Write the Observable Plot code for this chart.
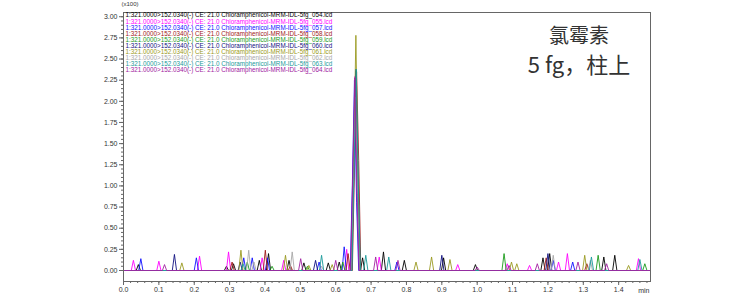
<!DOCTYPE html>
<html><head><meta charset="utf-8">
<script src="https://cdn.jsdelivr.net/npm/d3@7"></script>
<script src="https://cdn.jsdelivr.net/npm/@observablehq/plot@0.6"></script>
<style>
body{margin:0;background:#fff;}
#wrap{position:relative;width:754px;height:297px;}
#note{position:absolute;left:509px;top:21px;width:140px;text-align:center;font-family:"Noto Sans CJK SC",sans-serif;color:#333;}
#note div{line-height:28px;white-space:pre;}
</style></head>
<body><div id="wrap"><div id="note"><div style="font-size:20px">氯霉素</div><div style="font-size:22px">5 fg，柱上</div></div></div>
<script>
const seriesNames = ["054","055","057","058","059","060","061","062","063","064"];
const seriesColors = ["#000000","#ff00ff","#1010ff","#a01818","#1a9a1a","#101080","#9a9a20","#a8a8a8","#1a9a9a","#a020a0"];
const legendPrefix = "1:321.0000>152.0340(-) CE: 21.0 Chloramphenicol-MRM-IDL-5fg_";
// noise spikes [time(min), height(x100)]
const spikes054 = [[0.042,0.07],[0.291,0.05],[0.311,0.08],[0.384,0.12],[0.41,0.2],[0.468,0.12],[0.51,0.09],[0.579,0.09],[0.61,0.1],[0.676,0.15],[0.735,0.22],[0.794,0.12],[0.905,0.15],[0.995,0.07],[1.186,0.15],[1.205,0.2],[1.358,0.16],[1.389,0.18]];
const spikes055 = [[0.028,0.12],[0.10,0.11],[0.215,0.17],[0.297,0.22],[0.392,0.15],[0.453,0.12],[0.631,0.25],[0.723,0.16],[0.945,0.07],[1.085,0.08],[1.148,0.06],[1.23,0.1],[1.255,0.2],[1.456,0.14]];
const spikes057 = [[0.049,0.14],[0.206,0.15],[0.34,0.15],[0.364,0.15],[0.407,0.15],[0.553,0.1],[0.624,0.28],[0.773,0.1],[1.215,0.12],[1.27,0.1]];
const spikes058 = [[0.307,0.10],[0.401,0.24],[0.472,0.06],[0.635,0.2],[1.195,0.15],[1.31,0.08]];
const spikes059 = [[0.35,0.1],[0.42,0.05],[0.52,0.05],[0.62,0.1],[1.076,0.2],[1.342,0.18],[1.474,0.08]];
const spikes060 = [[0.144,0.19],[0.33,0.1],[0.543,0.12],[0.90,0.18],[1.20,0.2],[1.494,0.2]];
const spikes061 = [[0.165,0.09],[0.332,0.24],[0.458,0.18],[0.524,0.06],[0.59,0.07],[0.827,0.1],[0.871,0.16],[0.923,0.13],[1.097,0.1],[1.112,0.08],[1.304,0.18],[1.428,0.06]];
const spikes062 = [[0.354,0.24],[0.369,0.1],[0.477,0.22],[0.56,0.05],[1.215,0.18],[1.32,0.12]];
const spikes063 = [[0.338,0.08],[0.56,0.18],[0.685,0.18],[0.75,0.16],[1.323,0.16],[1.46,0.13]];
const spikes064 = [[0.116,0.07],[0.501,0.14],[0.60,0.12],[0.713,0.16],[0.776,0.12],[1.0,0.04],[1.09,0.06],[1.17,0.08],[1.285,0.1],[1.366,0.08]];
// main peak points
const peak054 = [[0.645,0],[0.651,1.1],[0.657,2.36],[0.663,1.0],[0.669,0]];
const peak055 = [[0.643,0],[0.649,1.2],[0.655,2.30],[0.661,0.9],[0.667,0]];
const peak057 = [[0.641,0],[0.647,1.0],[0.653,2.25],[0.659,0.8],[0.665,0]];
const peak058 = [[0.647,0],[0.653,1.2],[0.659,2.35],[0.665,1.3],[0.671,0]];
const peak059 = [[0.644,0],[0.650,1.1],[0.656,2.30],[0.662,1.0],[0.668,0]];
const peak060 = [[0.645,0],[0.651,1.2],[0.657,2.38],[0.663,1.0],[0.669,0]];
const peak061 = [[0.645,0],[0.651,1.3],[0.657,2.78],[0.663,1.1],[0.669,0]];
const peak062 = [[0.644,0],[0.650,1.0],[0.656,2.05],[0.662,0.9],[0.668,0]];
const peak063 = [[0.646,0],[0.652,1.2],[0.658,2.38],[0.664,1.0],[0.670,0]];
const peak064 = [[0.642,0],[0.648,1.1],[0.654,2.28],[0.660,0.9],[0.666,0]];
const xTicks = [0,0.1,0.2,0.3,0.4,0.5,0.6,0.7,0.8,0.9,1.0,1.1,1.2,1.3,1.4];
const yTicks = [0,0.25,0.5,0.75,1.0,1.25,1.5,1.75,2.0,2.25,2.5,2.75,3.0];

const spikeSets = [spikes054,spikes055,spikes057,spikes058,spikes059,spikes060,spikes061,spikes062,spikes063,spikes064];
const peakSets = [peak054,peak055,peak057,peak058,peak059,peak060,peak061,peak062,peak063,peak064];
const halfW = 0.006, tEnd = 1.49;
const rows = [];
seriesNames.forEach((name, i) => {
  const pts = [[0,0]];
  spikeSets[i].forEach(([t,h]) => { pts.push([t-halfW,0],[t,h],[t+halfW,0]); });
  peakSets[i].forEach(p => pts.push(p));
  pts.push([tEnd,0]);
  pts.sort((a,b)=>a[0]-b[0]);
  pts.forEach(([t,v]) => rows.push({series:name, t:Math.max(0,Math.min(tEnd,t)), v}));
});

const axisFont = "Liberation Sans, Arial, sans-serif";
const chart = Plot.plot({
  width: 754, height: 297,
  marginLeft: 123, marginRight: 104, marginTop: 12, marginBottom: 16,
  style: {fontFamily: axisFont, background: "#fff", color: "#333"},
  x: {domain: [0, 1.49], label: null},
  y: {domain: [-0.13, 3.05], label: null},
  color: {domain: seriesNames, range: seriesColors},
  marks: [
    Plot.axisY(d3.range(0, 3.01, 0.05), {tickSize: 2, text: null, label: null, stroke: "#666"}),
    Plot.axisY(yTicks, {tickSize: 4, tickFormat: ".2f", fontSize: 7, tickPadding: 2, label: null, stroke: "#666"}),
    Plot.axisX(d3.range(0, 1.49, 0.02), {tickSize: 2, text: null, label: null, stroke: "#666"}),
    Plot.axisX(xTicks, {tickSize: 4, tickFormat: ".1f", fontSize: 7, tickPadding: 2, label: null, stroke: "#666"}),
    Plot.line(rows, {x: "t", y: "v", z: "series", stroke: "series", strokeWidth: 0.9}),
    Plot.frame({stroke: "#666"}),
    ...seriesNames.map((name, i) => Plot.text([legendPrefix + name + ".lcd"], {
      frameAnchor: "top-left", dx: 2, dy: 0.5 + i * 6.1, text: d => d, fill: seriesColors[i],
      fontSize: 6.3, textAnchor: "start", lineAnchor: "top"})),
    Plot.text(["(x100)"], {frameAnchor: "top-left", dx: -2, dy: -11, text: d => d, fontSize: 6, textAnchor: "start", lineAnchor: "top", fill: "#333"}),
    Plot.text(["min"], {frameAnchor: "bottom-right", dx: -1, dy: 9, text: d => d, fontSize: 7, textAnchor: "end", lineAnchor: "middle", fill: "#333"})
  ]
});
document.getElementById("wrap").prepend(chart);
</script></body></html>
